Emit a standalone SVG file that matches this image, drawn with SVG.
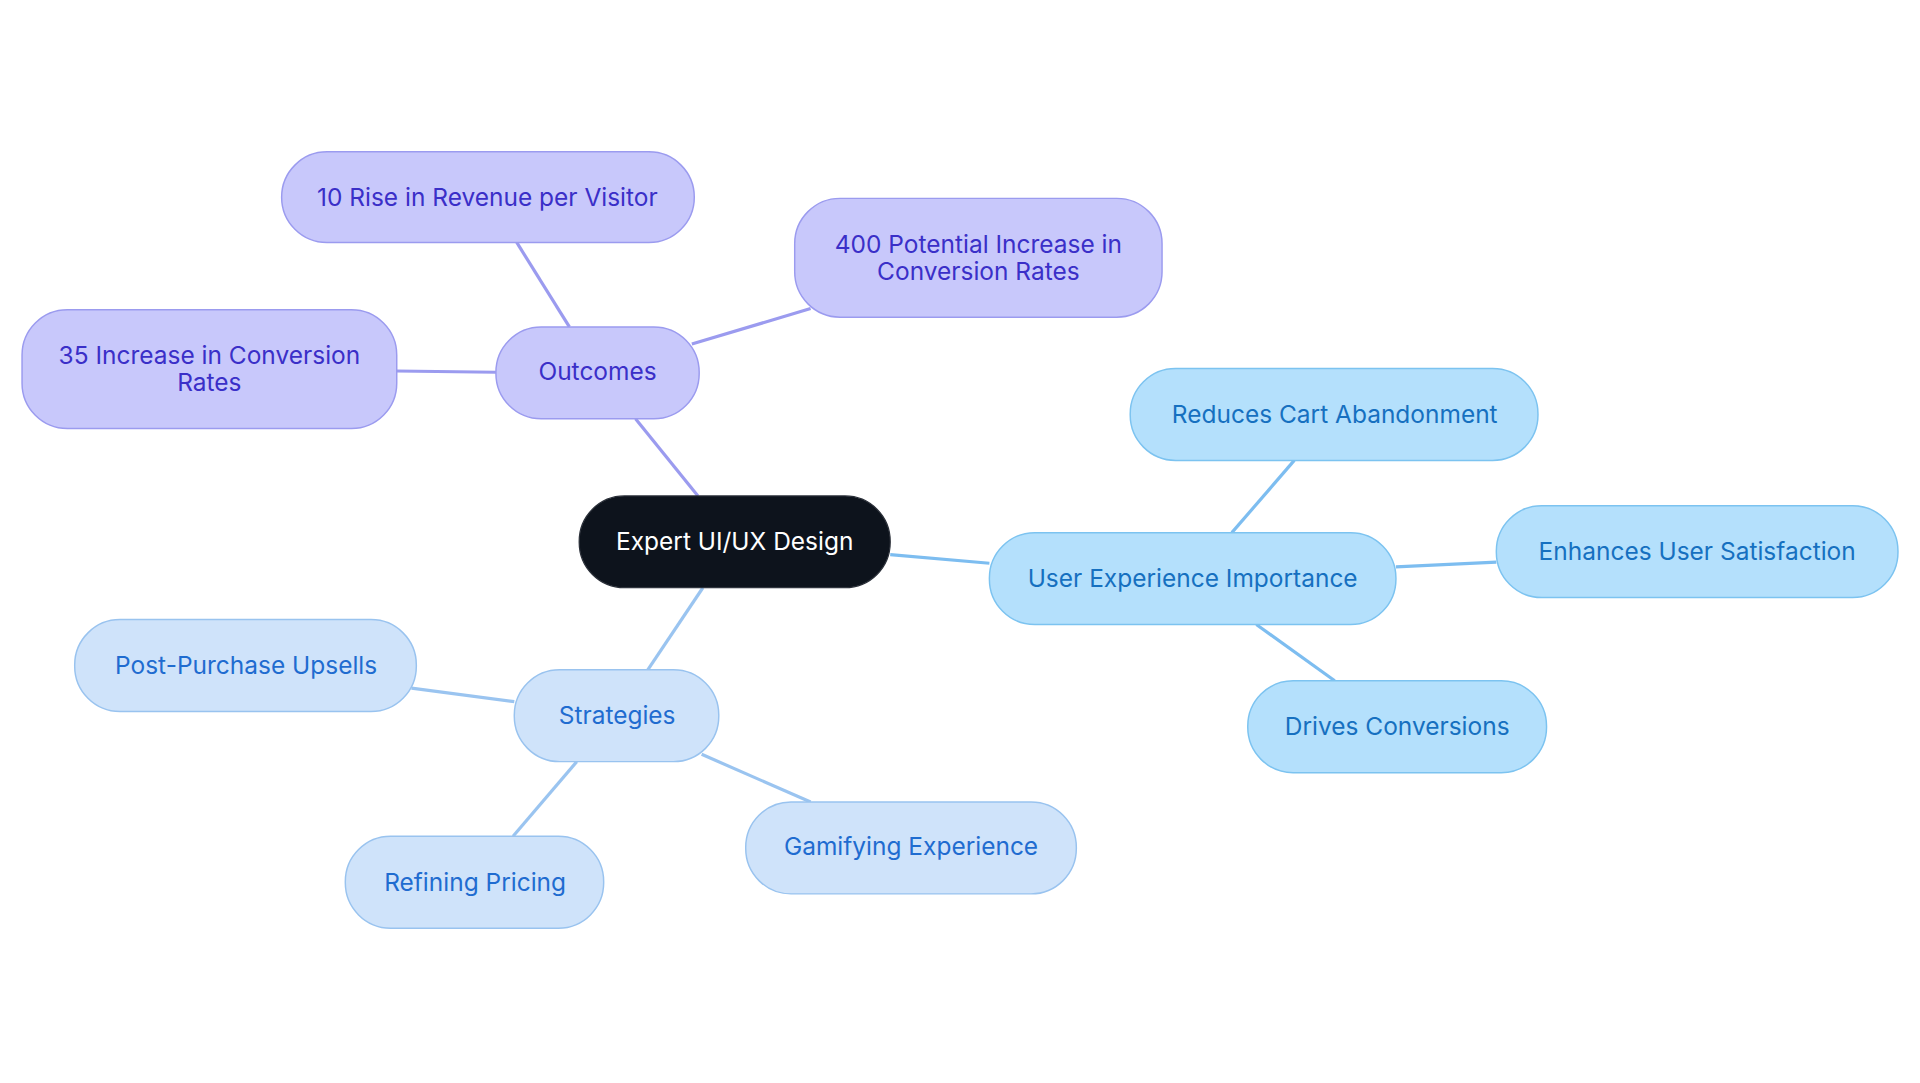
<svg xmlns="http://www.w3.org/2000/svg" width="1920" height="1083" viewBox="0 0 1920 1083">
<style>
text{font-family:Inter,"Noto Sans",sans-serif;font-size:20px;text-anchor:middle;dominant-baseline:central}
.o rect{fill:#c8c8fb;stroke:#9b9bef;stroke-width:1.2}.o text{fill:#3a2fc8}
.u rect{fill:#b4e0fc;stroke:#7cc3f0;stroke-width:1.2}.u text{fill:#1670c0}
.s rect{fill:#cfe3fa;stroke:#99c3ef;stroke-width:1.2}.s text{fill:#1f6cd0}
#edges line{stroke-width:2.6;fill:none}
.eo{stroke:#9b9bef}.eu{stroke:#7dbdf0}.es{stroke:#9ac4f0}
</style>
<rect width="1920" height="1083" fill="#fff"/>
<g transform="scale(1.2245)">
<g id="edges">
<line class="eo" x1="570" y1="405" x2="519" y2="342"/>
<line class="eo" x1="465" y1="267" x2="422" y2="198"/>
<line class="eo" x1="565" y1="281" x2="662" y2="252"/>
<line class="eo" x1="405" y1="304" x2="324" y2="303"/>
<line class="eu" x1="727" y1="453" x2="808" y2="460"/>
<line class="eu" x1="1006" y1="435" x2="1057" y2="376"/>
<line class="eu" x1="1140" y1="463" x2="1222" y2="459"/>
<line class="eu" x1="1026" y1="510" x2="1090" y2="556"/>
<line class="es" x1="574" y1="480" x2="529" y2="547"/>
<line class="es" x1="420" y1="573" x2="336" y2="562"/>
<line class="es" x1="471" y1="622" x2="419" y2="683"/>
<line class="es" x1="573" y1="616" x2="662" y2="655"/>
</g>
<g id="root"><rect x="473" y="405" width="254" height="75" rx="37" fill="#0d131c" stroke="#2a2f38"/><text x="600" y="442" fill="#fff">Expert UI/UX Design</text></g>
<g id="outcomes" class="o"><rect x="405" y="267" width="166" height="75" rx="37"/><text x="488" y="303">Outcomes</text></g>
<g id="rise10" class="o"><rect x="230" y="124" width="337" height="74" rx="37"/><text x="398" y="161">10 Rise in Revenue per Visitor</text></g>
<g id="inc400" class="o"><rect x="649" y="162" width="300" height="97" rx="37"/><text x="799" y="199">400 Potential Increase in</text><text x="799" y="221">Conversion Rates</text></g>
<g id="inc35" class="o"><rect x="18" y="253" width="306" height="97" rx="37"/><text x="171" y="290">35 Increase in Conversion</text><text x="171" y="312">Rates</text></g>
<g id="ux" class="u"><rect x="808" y="435" width="332" height="75" rx="37"/><text x="974" y="472">User Experience Importance</text></g>
<g id="reduces" class="u"><rect x="923" y="301" width="333" height="75" rx="37"/><text x="1090" y="338">Reduces Cart Abandonment</text></g>
<g id="enhances" class="u"><rect x="1222" y="413" width="328" height="75" rx="37"/><text x="1386" y="450">Enhances User Satisfaction</text></g>
<g id="drives" class="u"><rect x="1019" y="556" width="244" height="75" rx="37"/><text x="1141" y="593">Drives Conversions</text></g>
<g id="strategies" class="s"><rect x="420" y="547" width="167" height="75" rx="37"/><text x="504" y="584">Strategies</text></g>
<g id="post" class="s"><rect x="61" y="506" width="279" height="75" rx="37"/><text x="201" y="543">Post-Purchase Upsells</text></g>
<g id="refining" class="s"><rect x="282" y="683" width="211" height="75" rx="37"/><text x="388" y="720">Refining Pricing</text></g>
<g id="gamifying" class="s"><rect x="609" y="655" width="270" height="75" rx="37"/><text x="744" y="691">Gamifying Experience</text></g>
</g>
</svg>
